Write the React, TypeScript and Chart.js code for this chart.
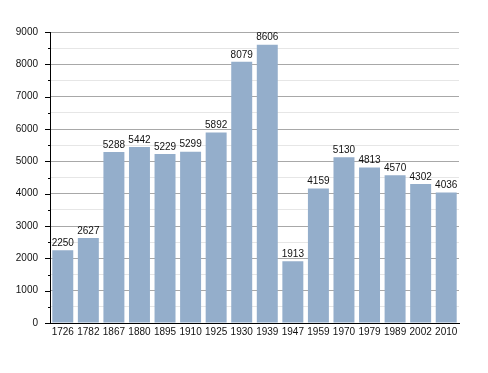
import React, { useEffect, useRef } from "react";
import { Chart, registerables } from "chart.js";

Chart.register(...registerables);

const years = ["1726", "1782", "1867", "1880", "1895", "1910", "1925", "1930", "1939", "1947", "1959", "1970", "1979", "1989", "2002", "2010"];
const population = [2250, 2627, 5288, 5442, 5229, 5299, 5892, 8079, 8606, 1913, 4159, 5130, 4813, 4570, 4302, 4036];
const yMax = 9000;
const yStep = 500;

const FONT = "'Liberation Sans', Arial, sans-serif";

const valueLabels = {
  id: "valueLabels",
  afterDatasetsDraw(chart: any) {
    const ctx = chart.ctx;
    const meta = chart.getDatasetMeta(0);
    ctx.save();
    ctx.font = `10px ${FONT}`;
    ctx.fillStyle = "#111";
    ctx.textAlign = "center";
    ctx.textBaseline = "bottom";
    meta.data.forEach((bar: any, i: number) => {
      ctx.fillText(String(population[i]), bar.x, bar.y - 2);
    });
    ctx.restore();
  },
};

const yTicks = {
  id: "yTicks",
  afterDraw(chart: any) {
    const ctx = chart.ctx;
    const y = chart.scales.y;
    const left = chart.chartArea.left;
    ctx.save();
    ctx.strokeStyle = "#000";
    ctx.lineWidth = 1;
    for (let v = 0; v <= yMax; v += yStep) {
      const py = Math.round(y.getPixelForValue(v)) + 0.5;
      const len = v % 1000 === 0 ? 5 : 2;
      ctx.beginPath();
      ctx.moveTo(left - len, py);
      ctx.lineTo(left, py);
      ctx.stroke();
    }
    ctx.restore();
  },
};

export default function App() {
  const ref = useRef<HTMLCanvasElement>(null);
  useEffect(() => {
    if (!ref.current) return;
    const chart = new Chart(ref.current, {
      type: "bar",
      data: {
        labels: years,
        datasets: [
          {
            data: population,
            backgroundColor: "#94aecb",
            borderWidth: 0,
            categoryPercentage: 1,
            barPercentage: 0.82,
          },
        ],
      },
      options: {
        animation: false,
        responsive: false,
        maintainAspectRatio: false,
        layout: { padding: { left: 0, right: 29, top: 32, bottom: 0 } },
        plugins: { legend: { display: false }, tooltip: { enabled: false } },
        scales: {
          x: {
            grid: { display: false, drawTicks: false },
            border: { display: true, color: "#000", width: 1 },
            ticks: { color: "#111", font: { family: FONT, size: 10 }, padding: 3, maxRotation: 0, autoSkip: false },
            afterFit(scale: any) {
              scale.height = 50;
            },
          },
          y: {
            min: 0,
            max: yMax,
            grid: {
              drawTicks: false,
              color: (c: any) => (c.tick && c.tick.value % 1000 === 0 ? (c.tick.value === 0 ? "rgba(0,0,0,0)" : "#a8a8a8") : "#e6e6e6"),
              lineWidth: 1,
            },
            border: { display: true, color: "#000", width: 1 },
            ticks: {
              stepSize: yStep,
              color: "#111",
              font: { family: FONT, size: 10 },
              padding: 12,
              callback: (v: any) => (Number(v) % 1000 === 0 ? String(v) : ""),
            },
            afterFit(scale: any) {
              scale.width = 50;
            },
          },
        },
      },
      plugins: [valueLabels, yTicks],
    });
    return () => chart.destroy();
  }, []);
  return (
    <div style={{ position: "fixed", left: 0, top: 0, width: 488, height: 373, background: "#fff" }}>
      <canvas ref={ref} width={488} height={373} style={{ width: 488, height: 373 }} />
    </div>
  );
}
